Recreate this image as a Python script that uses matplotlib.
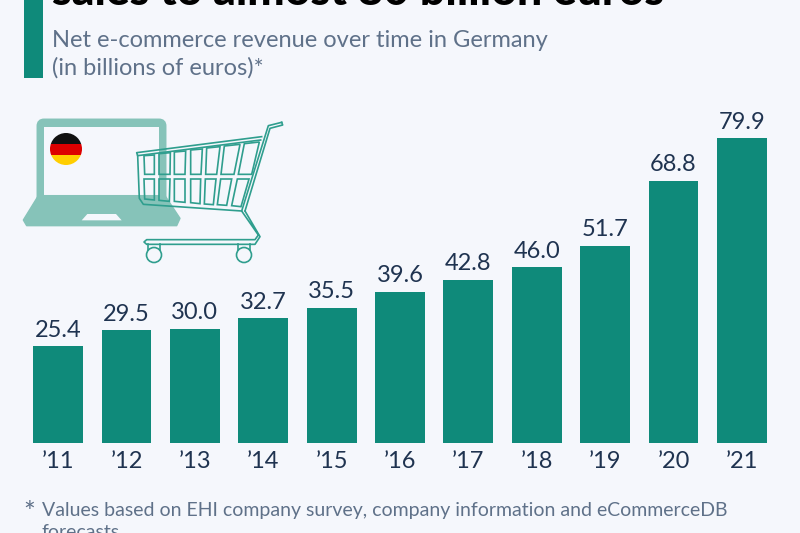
#!/usr/bin/env python3
"""Germany e-commerce revenue bar chart."""
import matplotlib
matplotlib.use('Agg')
import matplotlib.pyplot as plt
from matplotlib.patches import Circle, FancyBboxPatch, Polygon, Rectangle

plt.rcParams['font.family'] = ['Lato', 'DejaVu Sans']

years = ['’11', '’12', '’13', '’14', '’15', '’16', '’17', '’18', '’19', '’20', '’21']
revenue = [25.4, 29.5, 30.0, 32.7, 35.5, 39.6, 42.8, 46.0, 51.7, 68.8, 79.9]

BG = '#f5f7fc'
GREEN = '#0f8a7a'
LIGHT = '#86c3b9'
LINE = '#2f9e8e'
DARK = '#1f3350'
GREY = '#5f7189'
W, H = 800, 533

fig = plt.figure(figsize=(8, 5.33), dpi=100, facecolor=BG)

# --- bars ---
ax = fig.add_axes([24 / W, (H - 443) / H, 752 / W, 343 / H])
ax.set_facecolor('none')
ax.bar(range(len(years)), revenue, width=0.73, color=GREEN)
ax.set_xlim(-0.5, 10.5)
ax.set_ylim(0, 89.9)
ax.set_xticks(range(len(years)), years)
ax.tick_params(axis='x', length=0, pad=6, labelsize=17, labelcolor=DARK)
ax.set_yticks([])
for spine in ax.spines.values():
    spine.set_visible(False)
for i, v in enumerate(revenue):
    ax.annotate(f'{v:.1f}', (i, v), xytext=(0, 4), textcoords='offset points',
                ha='center', va='bottom', fontsize=17, color=DARK)

# --- overlay in pixel coordinates: header, icon, footnote ---
ov = fig.add_axes([0, 0, 1, 1], zorder=5)
ov.set_xlim(0, W)
ov.set_ylim(H, 0)
ov.axis('off')

ov.add_patch(Rectangle((24, 0), 19, 78, color=GREEN, lw=0))
ov.text(52, 5, 'sales to almost 80 billion euros', fontsize=32, fontweight='black',
        color='black', va='baseline')
ov.text(52, 47, 'Net e-commerce revenue over time in Germany', fontsize=17, color=GREY)
ov.text(52, 75, '(in billions of euros)*', fontsize=17, color=GREY)

ov.text(23, 522, '*', fontsize=20, color=GREY)
ov.text(42, 516, 'Values based on EHI company survey, company information and eCommerceDB',
        fontsize=14, color=GREY)
ov.text(42, 538, 'forecasts', fontsize=14, color=GREY)


def z(points):
    return [(10 + x / 3, 105 + y / 3) for x, y in points]


# laptop
ov.add_patch(FancyBboxPatch((40, 122), 123, 80, boxstyle='round,pad=0,rounding_size=4',
                            fc=LIGHT, ec=LIGHT, lw=5))
ov.add_patch(Rectangle((44, 127), 115, 68, fc=BG, lw=0))
ov.add_patch(Polygon(z([(85, 272), (465, 272), (510, 340), (500, 362), (50, 362), (40, 345)]),
                     fc=LIGHT, ec=LIGHT, lw=1, joinstyle='round'))
ov.add_patch(Polygon(z([(232, 327), (318, 327), (335, 346), (215, 346)]), fc=BG, lw=0))

# flag
clip = Circle((66, 149), 16, transform=ov.transData)
for top, colour in [(133, '#111111'), (144, '#dd0000'), (154.5, '#ffce00')]:
    r = Rectangle((50, top), 32, 11, fc=colour, lw=0)
    ov.add_patch(r)
    r.set_clip_path(clip)

# cart frame
frame = [(815, 52), (775, 62), (695, 318), (745, 390), (735, 404), (410, 404), (402, 411),
         (410, 418), (735, 418), (750, 395), (705, 318)]
ov.plot(*zip(*z(frame)), color=LINE, lw=1.2)
ov.plot(*zip(*z([(815, 52), (818, 60), (780, 70), (705, 318)])), color=LINE, lw=1.2)
ov.plot(*zip(*z([(755, 95), (380, 143), (383, 152), (752, 105)])), color=LINE, lw=1.2)
ov.plot(*zip(*z([(383, 152), (388, 280), (400, 298), (695, 318)])), color=LINE, lw=1.2)

upper = [[(402, 152), (433, 150), (433, 208), (404, 208)],
         [(447, 146), (481, 143), (480, 208), (447, 208)],
         [(493, 141), (527, 138), (525, 208), (493, 208)],
         [(542, 135), (577, 132), (573, 208), (542, 208)],
         [(590, 129), (630, 125), (620, 208), (587, 208)],
         [(643, 123), (690, 118), (672, 208), (633, 208)],
         [(703, 116), (748, 111), (725, 208), (685, 208)]]
lower = [[(402, 222), (433, 222), (433, 285), (404, 282)],
         [(447, 222), (480, 222), (478, 289), (447, 286)],
         [(493, 222), (525, 222), (525, 292), (493, 289)],
         [(542, 222), (572, 222), (570, 296), (542, 293)],
         [(586, 222), (618, 222), (610, 299), (583, 297)],
         [(632, 222), (665, 222), (650, 301), (622, 299)],
         [(682, 222), (717, 222), (693, 305), (665, 302)]]
for cell in upper + lower:
    ov.add_patch(Polygon(z(cell), fc='none', ec=LINE, lw=1.2))

for cx in (154, 244):
    ov.add_patch(Circle((cx, 255), 7.5, fc='none', ec=LINE, lw=1.2))
    ov.plot([cx - 6, cx - 6], [244, 250], color=LINE, lw=1.2)
    ov.plot([cx + 6, cx + 6], [244, 250], color=LINE, lw=1.2)

fig.savefig('out.png', dpi=100, facecolor=BG)
